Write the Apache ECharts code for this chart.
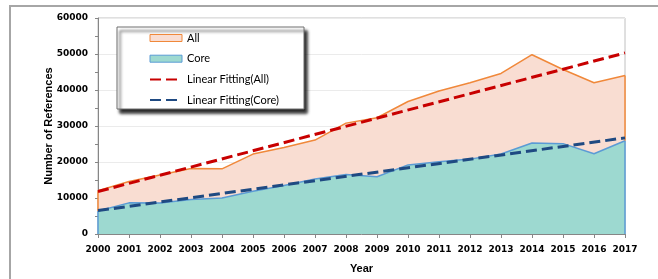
<!DOCTYPE html>
<html>
<head>
<meta charset="utf-8">
<script src="https://cdn.jsdelivr.net/npm/echarts@6/dist/echarts.min.js"></script>
<style>
html,body{margin:0;padding:0;background:#fff;}
#chart{width:658px;height:279px;}
</style>
</head>
<body>
<div id="chart"></div>
<script>
// ---- data ----
var years = ['2000','2001','2002','2003','2004','2005','2006','2007','2008','2009','2010','2011','2012','2013','2014','2015','2016','2017'];
var allRefs  = [12000,14600,16400,18200,18100,22200,24000,26100,30800,32300,36800,39700,42000,44600,49800,45700,42000,44000];
var coreRefs = [6400,8650,8600,9600,10000,11900,13500,15300,16500,15900,19200,20100,20800,22200,25300,25100,22300,25900];
// fitted trend lines: start (2000) and end (2017) values
var fitAll  = [11800,null,null,null,null,null,null,null,null,null,null,null,null,null,null,null,null,50300];
var fitCore = [6500,null,null,null,null,null,null,null,null,null,null,null,null,null,null,null,null,26700];
var yTicks = [0,10000,20000,30000,40000,50000,60000];

var chart = echarts.init(document.getElementById('chart'), null, {renderer:'canvas'});
var numFont = 'DejaVu Sans';
var txtFont = 'Liberation Sans';
var legFont = 'Lato';
var last = years.length - 1;
var hidden = {color:'rgba(0,0,0,0)', borderColor:'rgba(0,0,0,0)', borderWidth:0};

chart.setOption({
  animation:false,
  backgroundColor:'#fff',
  graphic:[
    {type:'rect', z:-10, shape:{x:10,y:6,width:800,height:400}, style:{fill:'none', stroke:'#a6a6a6', lineWidth:2}},
    {type:'rect', z:50, shape:{x:117,y:27,width:187,height:82},
     style:{fill:'#fff', stroke:'#6e6e6e', lineWidth:1, shadowColor:'rgba(0,0,0,0.85)', shadowBlur:3, shadowOffsetX:3, shadowOffsetY:4}}
  ],
  grid:{left:98, right:33, top:18, bottom:44, show:true, borderColor:'#c0c0c0', borderWidth:1, backgroundColor:'#fff'},
  legend:{
    orient:'vertical', left:149, top:31, padding:0, z:60,
    itemWidth:32, itemHeight:7, itemGap:6.7,
    textStyle:{fontFamily:legFont, fontSize:11, color:'#000', lineHeight:14},
    data:[
      {name:'All', icon:'rect', itemStyle:{color:'#f9ddd2', borderColor:'#f0883a', borderWidth:1}},
      {name:'Core', icon:'rect', itemStyle:{color:'#9dd9d0', borderColor:'#5b9bd5', borderWidth:1}},
      {name:'Linear Fitting(All)', itemStyle:hidden},
      {name:'Linear Fitting(Core)', itemStyle:hidden}
    ]
  },
  xAxis:{
    type:'category', data:years, boundaryGap:false,
    name:'Year', nameLocation:'middle', nameGap:29,
    nameTextStyle:{fontFamily:txtFont, fontWeight:'bold', fontSize:11, color:'#000'},
    axisLine:{lineStyle:{color:'#868686', width:1}},
    axisTick:{show:true, length:4, lineStyle:{color:'#868686'}},
    axisLabel:{fontFamily:numFont, fontWeight:'bold', fontSize:9, color:'#000', margin:11, interval:0},
    splitLine:{show:false}
  },
  yAxis:{
    type:'value', min:yTicks[0], max:yTicks[yTicks.length-1], interval:10000,
    name:'Number of References', nameLocation:'middle', nameGap:44, nameMoveOverlap:false,
    nameTextStyle:{fontFamily:txtFont, fontWeight:'bold', fontSize:11, color:'#000'},
    axisLine:{show:true, lineStyle:{color:'#868686', width:1}},
    axisTick:{show:true, length:3, lineStyle:{color:'#868686'}},
    minorTick:{show:true, splitNumber:2, length:3, lineStyle:{color:'#868686'}},
    axisLabel:{fontFamily:numFont, fontWeight:'bold', fontSize:9, color:'#000', margin:10,
      formatter:function(v){return String(v);}},
    splitLine:{show:true, lineStyle:{color:'#ebebeb', width:1}}
  },
  series:[
    {name:'All', type:'line', data:allRefs, symbol:'none', z:2,
     lineStyle:{color:'#f0883a', width:1.5}, itemStyle:{color:'#f9ddd2'},
     areaStyle:{color:'#f9ddd2', opacity:1},
     markLine:{silent:true, symbol:'none', label:{show:false}, lineStyle:{color:'#f0883a', width:1.5, type:'solid'},
       data:[[{coord:[years[0], coreRefs[0]]},{coord:[years[0], allRefs[0]]}],
             [{coord:[years[last], coreRefs[last]]},{coord:[years[last], allRefs[last]]}]]}},
    {name:'Core', type:'line', data:coreRefs, symbol:'none', z:3,
     lineStyle:{color:'#5b9bd5', width:1.5}, itemStyle:{color:'#9dd9d0'},
     areaStyle:{color:'#9dd9d0', opacity:1},
     markLine:{silent:true, symbol:'none', label:{show:false}, lineStyle:{color:'#5b9bd5', width:1.5, type:'solid'},
       data:[[{coord:[years[0], 0]},{coord:[years[0], coreRefs[0]]}],
             [{coord:[years[last], 0]},{coord:[years[last], coreRefs[last]]}]]}},
    {name:'Linear Fitting(All)', type:'line', data:fitAll, connectNulls:true, symbol:'none', z:5,
     lineStyle:{color:'#c80000', width:3, type:[11,5]}, itemStyle:{color:'#c80000'}},
    {name:'Linear Fitting(Core)', type:'line', data:fitCore, connectNulls:true, symbol:'none', z:5,
     lineStyle:{color:'#1f4a82', width:3, type:[11,5]}, itemStyle:{color:'#1f4a82'}}
  ]
});
</script>
</body>
</html>
